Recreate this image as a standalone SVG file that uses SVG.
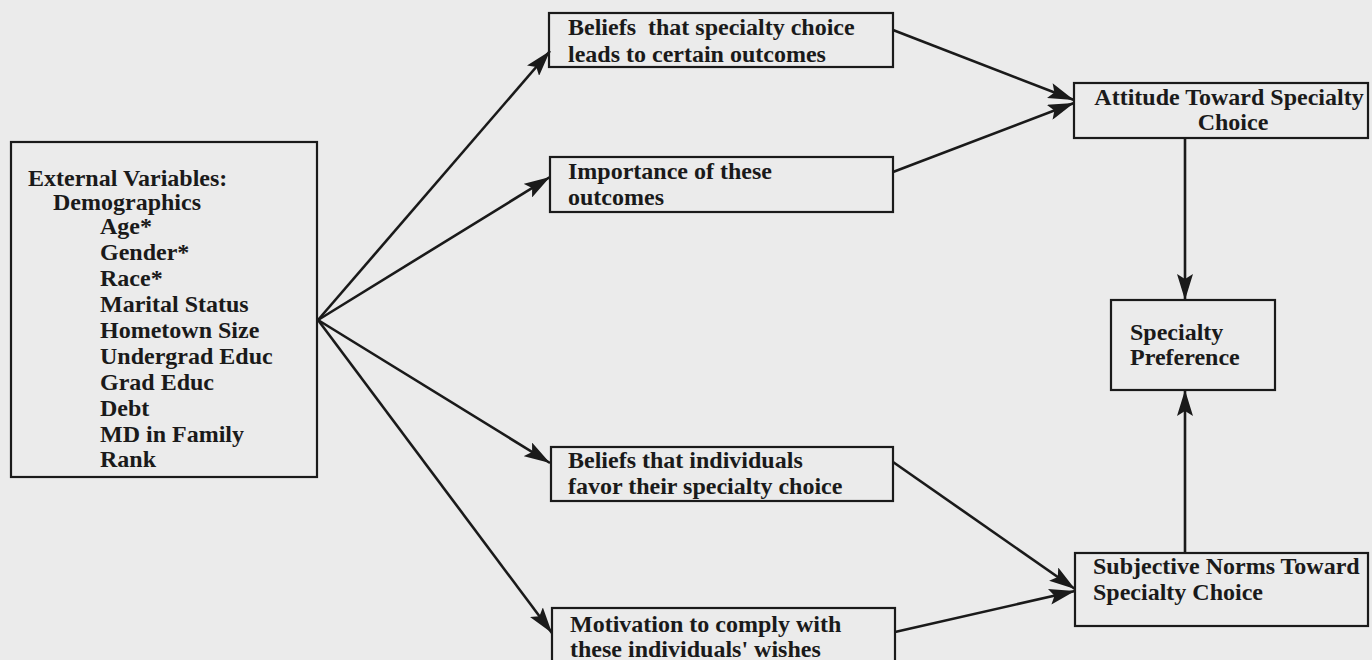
<svg xmlns="http://www.w3.org/2000/svg" width="1372" height="660" viewBox="0 0 1372 660">
<defs>
<style>
.bg{fill:#ebebeb}
.box{fill:none;stroke:#1a1a1a;stroke-width:2.2}
.t{font-family:"Liberation Serif","Times New Roman",serif;font-weight:bold;font-size:24px;fill:#1a1a1a}
.c{stroke:#1a1a1a;stroke-width:2.6;fill:none;marker-end:url(#ah)}
</style>
<marker id="ah" markerUnits="userSpaceOnUse" markerWidth="28" markerHeight="16" refX="26" refY="8" orient="auto">
<path d="M0,0 L26,8 L0,16 L5,8 Z" fill="#1a1a1a"/>
</marker>
</defs>
<rect class="bg" x="0" y="0" width="1372" height="660"/>

<g id="connectors">
<line class="c" x1="318" y1="320" x2="550" y2="51"/>
<line class="c" x1="318" y1="320" x2="550" y2="177"/>
<line class="c" x1="318" y1="320" x2="550" y2="463"/>
<line class="c" x1="318" y1="320" x2="552" y2="633"/>
<line class="c" x1="893" y1="30" x2="1074" y2="100"/>
<line class="c" x1="893" y1="172" x2="1074" y2="103"/>
<line class="c" x1="893" y1="462" x2="1075" y2="589"/>
<line class="c" x1="895" y1="632" x2="1075" y2="591"/>
<line class="c" x1="1185" y1="138" x2="1185" y2="300"/>
<line class="c" x1="1185" y1="553" x2="1185" y2="390"/>
</g>

<g id="external">
<rect class="box" x="11" y="142" width="306" height="335"/>
<text class="t" x="28" y="186">External Variables:</text>
<text class="t" x="53" y="210">Demographics</text>
<text class="t" x="100" y="234">Age*</text>
<text class="t" x="100" y="260">Gender*</text>
<text class="t" x="100" y="286">Race*</text>
<text class="t" x="100" y="312">Marital Status</text>
<text class="t" x="100" y="338">Hometown Size</text>
<text class="t" x="100" y="364">Undergrad Educ</text>
<text class="t" x="100" y="390">Grad Educ</text>
<text class="t" x="100" y="416">Debt</text>
<text class="t" x="100" y="442">MD in Family</text>
<text class="t" x="100" y="467">Rank</text>
</g>

<g id="beliefs-outcomes">
<rect class="box" x="549" y="13" width="344" height="54"/>
<text class="t" x="568" y="35" xml:space="preserve">Beliefs  that specialty choice</text>
<text class="t" x="568" y="62">leads to certain outcomes</text>
</g>

<g id="importance">
<rect class="box" x="550" y="157" width="343" height="55"/>
<text class="t" x="568" y="179">Importance of these</text>
<text class="t" x="568" y="205">outcomes</text>
</g>

<g id="beliefs-individuals">
<rect class="box" x="551" y="447" width="342" height="54"/>
<text class="t" x="568" y="468">Beliefs that individuals</text>
<text class="t" x="568" y="494">favor their specialty choice</text>
</g>

<g id="motivation">
<rect class="box" x="552" y="608" width="343" height="70"/>
<text class="t" x="570" y="632">Motivation to comply with</text>
<text class="t" x="570" y="657">these individuals' wishes</text>
</g>

<g id="attitude">
<rect class="box" x="1074" y="83" width="294" height="55"/>
<text class="t" x="1229" y="105" text-anchor="middle">Attitude Toward Specialty</text>
<text class="t" x="1233" y="130" text-anchor="middle">Choice</text>
</g>

<g id="preference">
<rect class="box" x="1111" y="300" width="164" height="90"/>
<text class="t" x="1130" y="340">Specialty</text>
<text class="t" x="1130" y="365">Preference</text>
</g>

<g id="norms">
<rect class="box" x="1075" y="553" width="293" height="73"/>
<text class="t" x="1093" y="574">Subjective Norms Toward</text>
<text class="t" x="1093" y="600">Specialty Choice</text>
</g>
</svg>
